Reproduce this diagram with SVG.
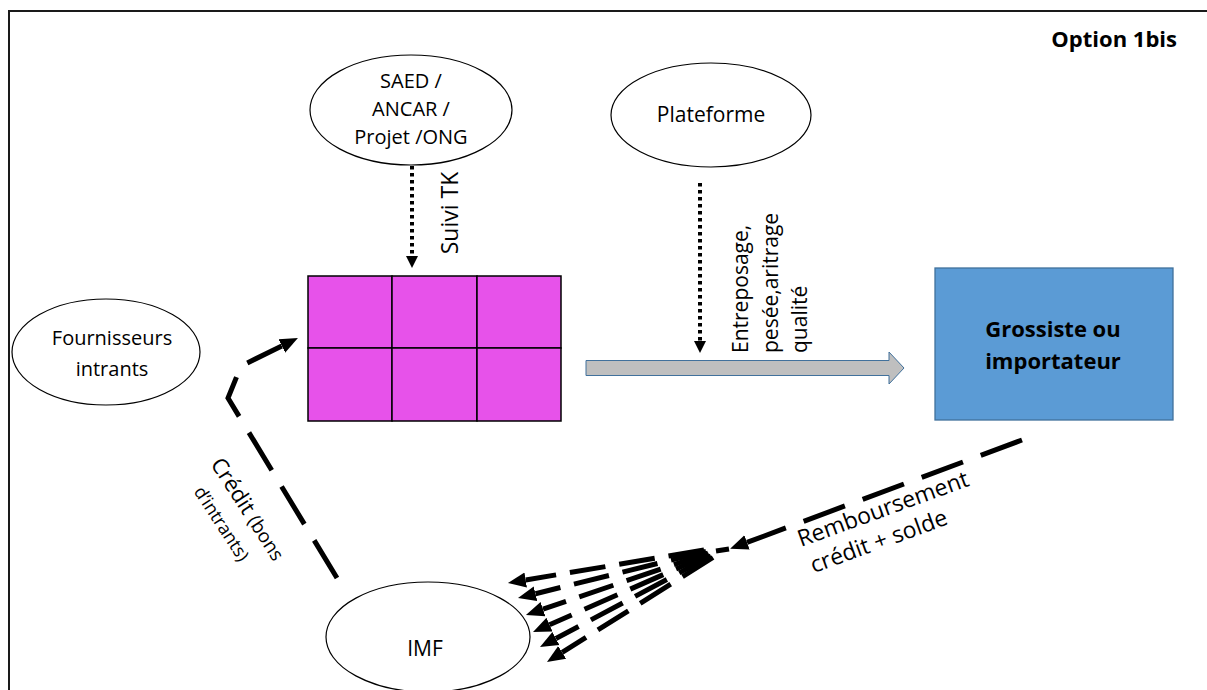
<svg xmlns="http://www.w3.org/2000/svg" width="1207" height="690" viewBox="0 0 1207 690">
  <style>
    text { font-family: "Open Sans", "Liberation Sans", sans-serif; fill: #000; }
    .lbl { font-size: 21px; }
    .mid { text-anchor: middle; }
    .bold { font-weight: bold; font-size: 22px; }
    .oval { fill: #fff; stroke: #000; stroke-width: 1.2; }
    .dash { fill: none; stroke: #000; stroke-width: 5; stroke-dasharray: 44 19; }
    .ray { fill: none; stroke: #000; stroke-width: 5; stroke-dasharray: 36 14; }
    .dot { fill: none; stroke: #000; stroke-width: 4; stroke-dasharray: 3.5 3.5; }
    .cell { fill: #e752ea; stroke: #000; stroke-width: 1.5; }
  </style>
  <defs>
    <marker id="head" markerUnits="userSpaceOnUse" markerWidth="20" markerHeight="18" viewBox="0 -9 20 18" refX="0" refY="0" orient="auto">
      <path d="M0,-7.5 L18,0 L0,7.5 z" fill="#000"/>
    </marker>
    <marker id="ptr" markerUnits="userSpaceOnUse" markerWidth="14" markerHeight="14" viewBox="0 -7 14 14" refX="0" refY="0" orient="auto">
      <path d="M0,-6 L12,0 L0,6 z" fill="#000"/>
    </marker>
  </defs>

  <rect width="1207" height="690" fill="#fff"/>
  <!-- outer frame, open to the right and bottom -->
  <path d="M9,690 V11 H1207" fill="none" stroke="#1a1a1a" stroke-width="2"/>

  <text class="bold" x="1177" y="47" text-anchor="end">Option 1bis</text>

  <g id="saed">
    <ellipse class="oval" cx="411" cy="110" rx="101" ry="55"/>
    <text class="mid" x="411" y="88" style="font-size:20px">SAED /</text>
    <text class="mid" x="411" y="116" style="font-size:20px">ANCAR /</text>
    <text class="mid" x="411" y="144" style="font-size:20px">Projet /ONG</text>
  </g>

  <g id="plateforme">
    <ellipse class="oval" cx="711" cy="115" rx="100" ry="52"/>
    <text class="lbl mid" x="711" y="122">Plateforme</text>
  </g>

  <g id="fournisseurs">
    <ellipse class="oval" cx="106" cy="352" rx="94" ry="53"/>
    <text class="mid" x="112" y="345" style="font-size:20px">Fournisseurs</text>
    <text class="mid" x="112" y="376" style="font-size:20px">intrants</text>
  </g>

  <g id="producteurs">
    <rect class="cell" x="308" y="276" width="84" height="72"/>
    <rect class="cell" x="392" y="276" width="85" height="72"/>
    <rect class="cell" x="477" y="276" width="84" height="72"/>
    <rect class="cell" x="308" y="348" width="84" height="73"/>
    <rect class="cell" x="392" y="348" width="85" height="73"/>
    <rect class="cell" x="477" y="348" width="84" height="73"/>
  </g>

  <g id="grossiste">
    <rect x="935" y="268" width="238" height="152" fill="#5b9bd5" stroke="#41719c" stroke-width="1.3"/>
    <text class="bold mid" x="1053" y="337">Grossiste ou</text>
    <text class="bold mid" x="1053" y="369">importateur</text>
  </g>

  <g id="imf">
    <ellipse class="oval" cx="428" cy="637" rx="102" ry="55"/>
    <text class="lbl mid" x="425" y="656">IMF</text>
  </g>

  <g id="connectors">
    <!-- technical follow-up -->
    <line class="dot" x1="412" y1="166" x2="412" y2="256" marker-end="url(#ptr)"/>
    <!-- storage / weighing / quality -->
    <line class="dot" x1="700" y1="183" x2="700" y2="341" marker-end="url(#ptr)"/>
    <!-- produce flow to the wholesaler -->
    <polygon points="586,360.5 889,360.5 889,352 904,368 889,384 889,375.5 586,375.5" fill="#bfbfbf" stroke="#41719c" stroke-width="1"/>
    <!-- input credit -->
    <path class="dash" d="M337,578 L228,398 L241,366 L281.8,345.9" marker-end="url(#head)"/>
    <!-- repayment -->
    <line class="dash" x1="1022" y1="440" x2="747" y2="542.4" marker-end="url(#head)"/>
    <line x1="716" y1="551" x2="729" y2="549" stroke="#000" stroke-width="5"/>
    <line class="ray" x1="704" y1="550" x2="525.7" y2="580" marker-end="url(#head)"/>
    <line class="ray" x1="706" y1="551.5" x2="535.5" y2="593.7" marker-end="url(#head)"/>
    <line class="ray" x1="708" y1="553" x2="543" y2="609.2" marker-end="url(#head)"/>
    <line class="ray" x1="709" y1="554.5" x2="549.5" y2="624.7" marker-end="url(#head)"/>
    <line class="ray" x1="711" y1="556" x2="555.9" y2="638.5" marker-end="url(#head)"/>
    <line class="ray" x1="713" y1="557.5" x2="562.2" y2="652.4" marker-end="url(#head)"/>
  </g>

  <g id="labels">
    <text x="458" y="213" transform="rotate(-90 458 213)" text-anchor="middle" style="font-size:23px">Suivi TK</text>
    <g transform="translate(748,353) rotate(-90)">
      <text class="lbl" x="0" y="0">Entreposage,</text>
      <text class="lbl" x="0" y="30">pesée,aritrage</text>
      <text class="lbl" x="0" y="59">qualité</text>
    </g>
    <g transform="translate(210,464) rotate(57)">
      <text x="0" y="0" style="font-size:22px">Crédit <tspan style="font-size:19px">(bons</tspan></text>
      <text x="14" y="29" style="font-size:18px">d’intrants)</text>
    </g>
    <g transform="translate(801,547) rotate(-20)">
      <text x="0" y="0" style="font-size:23px">Remboursement</text>
      <text x="3" y="29" style="font-size:23px">crédit + solde</text>
    </g>
  </g>
</svg>
